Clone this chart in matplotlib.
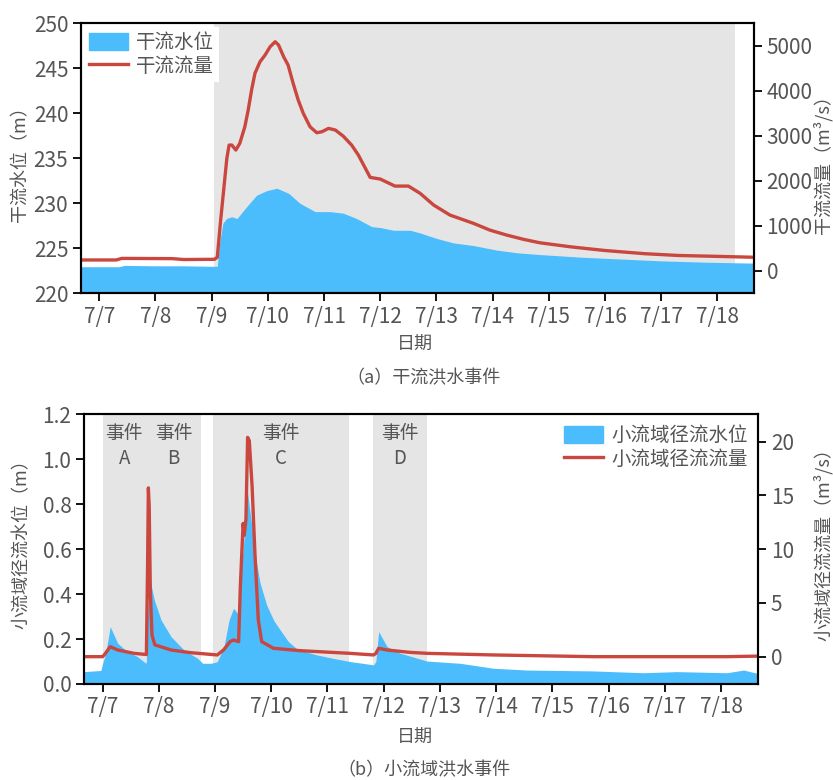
import matplotlib
matplotlib.use('Agg')
import matplotlib.pyplot as plt
from matplotlib.patches import Patch
from matplotlib.lines import Line2D

plt.rcParams['font.family'] = ['Liberation Sans Narrow', 'Noto Sans CJK SC', 'DejaVu Sans']

# 날짜: 7/7 00:00 기준 경과일
day_labels = ['7/%d' % d for d in range(7, 19)]

# (a) 干流 - 水位(m)
t_main = [-0.33, 0.0, 0.35, 0.45, 1.0, 1.5, 2.0, 2.10, 2.14, 2.20, 2.27, 2.36, 2.45, 2.62, 2.80,
          2.98, 3.16, 3.37, 3.57, 3.84, 4.11, 4.34, 4.58, 4.85, 5.0, 5.24, 5.53, 5.71, 6.0,
          6.30, 6.66, 7.07, 7.43, 7.84, 8.6, 9.3, 10.0, 10.8, 11.65]
level_main = [222.95, 222.95, 222.95, 223.1, 223.05, 223.05, 223.0, 223.0, 225.5, 227.8, 228.33,
              228.5, 228.3, 229.6, 230.9, 231.4, 231.67, 231.1, 230.0, 229.07, 229.07, 228.9,
              228.3, 227.4, 227.3, 227.0, 227.0, 226.7, 226.1, 225.6, 225.3, 224.8, 224.5,
              224.3, 224.0, 223.8, 223.6, 223.45, 223.35]

# (a) 干流 - 流量(m3/s)
t_q_main = [-0.33, 0.3, 0.4, 1.3, 1.5, 2.05, 2.10, 2.16, 2.27, 2.31, 2.36, 2.43, 2.50, 2.59,
            2.65, 2.71, 2.77, 2.86, 2.95, 3.04, 3.13, 3.19, 3.28, 3.36, 3.45, 3.54, 3.63,
            3.75, 3.87, 3.96, 4.08, 4.20, 4.34, 4.49, 4.61, 4.82, 5.00, 5.26, 5.50, 5.71,
            5.95, 6.24, 6.66, 6.95, 7.25, 7.55, 7.84, 8.4, 9.0, 9.7, 10.3, 11.0, 11.65]
q_main = [240, 240, 275, 270, 250, 255, 300, 1127, 2498, 2793, 2793, 2682, 2831, 3200, 3571,
          4016, 4387, 4644, 4793, 4978, 5089, 5016, 4756, 4571, 4164, 3793, 3498, 3200, 3067,
          3089, 3164, 3127, 2993, 2793, 2571, 2075, 2038, 1882, 1882, 1720, 1460, 1238, 1053,
          904, 793, 698, 622, 530, 450, 380, 340, 320, 300]

# (b) 小流域 - 水位(m)
t_small = [-0.33, -0.03, -0.02, 0.0, 0.05, 0.10, 0.137, 0.20, 0.27, 0.44, 0.62, 0.77, 0.78,
           0.80, 0.84, 0.92, 1.04, 1.22, 1.45, 1.69, 1.78, 1.93, 2.04, 2.16, 2.25, 2.33, 2.40,
           2.46, 2.51, 2.58, 2.64, 2.73, 2.80, 2.92, 3.05, 3.16, 3.3, 3.46, 3.8, 4.1, 4.4,
           4.82, 4.86, 4.91, 5.06, 5.29, 5.77, 6.36, 6.95, 7.55, 8.73, 9.62, 10.21, 11.1,
           11.4, 11.63]
level_small = [0.055, 0.06, 0.07, 0.09, 0.13, 0.20, 0.255, 0.22, 0.181, 0.144, 0.122, 0.092,
               0.10, 0.30, 0.47, 0.374, 0.285, 0.21, 0.151, 0.114, 0.092, 0.092, 0.099, 0.166,
               0.285, 0.337, 0.315, 0.49, 0.626, 0.849, 0.73, 0.552, 0.45, 0.35, 0.28, 0.24,
               0.19, 0.155, 0.13, 0.114, 0.10, 0.085, 0.10, 0.233, 0.166, 0.137, 0.102, 0.092,
               0.07, 0.062, 0.058, 0.05, 0.055, 0.05, 0.062, 0.048]

# (b) 小流域 - 流量(m3/s)
t_q_small = [-0.33, 0.0, 0.03, 0.137, 0.27, 0.56, 0.78, 0.80, 0.815, 0.83, 0.85, 0.88, 0.93,
             1.22, 1.57, 2.04, 2.15, 2.27, 2.33, 2.42, 2.45, 2.50, 2.52, 2.55, 2.58, 2.61,
             2.66, 2.71, 2.77, 2.83, 3.04, 3.51, 4.40, 4.82, 4.86, 4.91, 5.06, 5.47, 5.77,
             6.95, 8.73, 11.1, 11.63]
q_small = [0.0, 0.0, 0.16, 0.93, 0.62, 0.31, 0.2, 8.0, 15.7, 14.0, 6.0, 2.0, 1.1, 0.62, 0.37,
           0.16, 0.62, 1.4, 1.55, 1.4, 6.5, 12.4, 11.3, 12.8, 20.4, 20.1, 15.8, 9.6, 3.4, 1.4,
           0.78, 0.56, 0.31, 0.16, 0.3, 0.78, 0.62, 0.40, 0.31, 0.16, 0.0, 0.0, 0.05]

# 사건 구간
events = ['A', 'B', 'C', 'D']
event_start = [0.0, 0.77, 1.956, 4.807]
event_end = [0.77, 1.755, 4.386, 5.767]
flood_span = (2.05, 11.32)

c_fill = '#4bbcfc'
c_line = '#c9473e'
c_gray = '#e5e5e5'
c_text = '#555555'
cjk = ['Noto Sans CJK SC', 'DejaVu Sans']


def style(ax):
    ax.tick_params(axis='both', direction='out', length=6, width=1.3, labelsize=15,
                   labelcolor=c_text, pad=3)
    for s in ax.spines.values():
        s.set_linewidth(1.5)


fig = plt.figure(figsize=(8.33, 7.8), dpi=100)

# ---------- (a) ----------
ax1 = fig.add_axes([0.0969, 0.624, 0.8083, 0.3462])
ax1b = ax1.twinx()
ax1.axvspan(flood_span[0], flood_span[1], color=c_gray, lw=0, zorder=0)
ax1.fill_between(t_main, 220, level_main, color=c_fill, lw=0, zorder=1)
ax1b.plot(t_q_main, q_main, color=c_line, lw=2.4, solid_joinstyle='round')
ax1.set_xlim(-0.33, 11.65)
ax1.set_ylim(220, 250)
ax1b.set_ylim(-500, 5500)
ax1.set_yticks(range(220, 251, 5))
ax1b.set_yticks(range(0, 5001, 1000))
ax1.set_xticks(range(12))
ax1.set_xticklabels(day_labels)
style(ax1)
style(ax1b)
h1 = [Patch(color=c_fill), Line2D([], [], color=c_line, lw=2.4)]
leg = ax1b.legend(h1, ['干流水位', '干流流量'], loc='upper left',
                  prop={'family': cjk, 'size': 14}, frameon=True, fancybox=False,
                  framealpha=1, edgecolor='none', borderaxespad=0.2, borderpad=0.25,
                  handlelength=2.0, handleheight=1.0, handletextpad=0.4, labelspacing=0.15)
for t in leg.get_texts():
    t.set_color(c_text)

# ---------- (b) ----------
ax2 = fig.add_axes([0.1008, 0.1231, 0.8095, 0.3458])
ax2b = ax2.twinx()
for s0, s1, name in zip(event_start, event_end, events):
    ax2.axvspan(s0, s1, color=c_gray, lw=0, zorder=0)
    ax2.text((s0 + s1) / 2, 1.06, '事件\n' + name, ha='center', va='center', fontsize=13.5,
             color=c_text, linespacing=1.25, zorder=3)
ax2.fill_between(t_small, 0, level_small, color=c_fill, lw=0, zorder=1)
ax2b.plot(t_q_small, q_small, color=c_line, lw=2.4, solid_joinstyle='round')
ax2.set_xlim(-0.33, 11.66)
ax2.set_ylim(0, 1.2)
ax2b.set_ylim(-2.54, 22.55)
ax2.set_yticks([0.0, 0.2, 0.4, 0.6, 0.8, 1.0, 1.2])
ax2.set_yticklabels(['0.0', '0.2', '0.4', '0.6', '0.8', '1.0', '1.2'])
ax2b.set_yticks([0, 5, 10, 15, 20])
ax2.set_xticks(range(12))
ax2.set_xticklabels(day_labels)
style(ax2)
style(ax2b)
h2 = [Patch(color=c_fill), Line2D([], [], color=c_line, lw=2.4)]
leg2 = ax2b.legend(h2, ['小流域径流水位', '小流域径流流量'], loc='upper right',
                   prop={'family': cjk, 'size': 14}, frameon=True, fancybox=False,
                   framealpha=1, edgecolor='none', borderaxespad=0.25, borderpad=0.3,
                   handlelength=2.0, handleheight=1.0, handletextpad=0.4, labelspacing=0.15)
for t in leg2.get_texts():
    t.set_color(c_text)

# ---------- 라벨 ----------
W, H = 833.0, 780.0
def ftext(x, y, s, rot=0):
    fig.text(x / W, 1 - y / H, s, ha='center', va='center', rotation=rot, fontsize=13,
             color=c_text, family=cjk)

ftext(20, 160, '干流水位（m）', 90)
ftext(823, 160, '干流流量（m³/s）', 90)
ftext(415, 345, '日期')
ftext(424, 378, '（a）干流洪水事件')
ftext(22, 540, '小流域径流水位（m）', 90)
ftext(823, 540, '小流域径流流量（m³/s）', 90)
ftext(415, 738, '日期')
ftext(424, 770, '（b）小流域洪水事件')

fig.savefig('out.png', dpi=100)
